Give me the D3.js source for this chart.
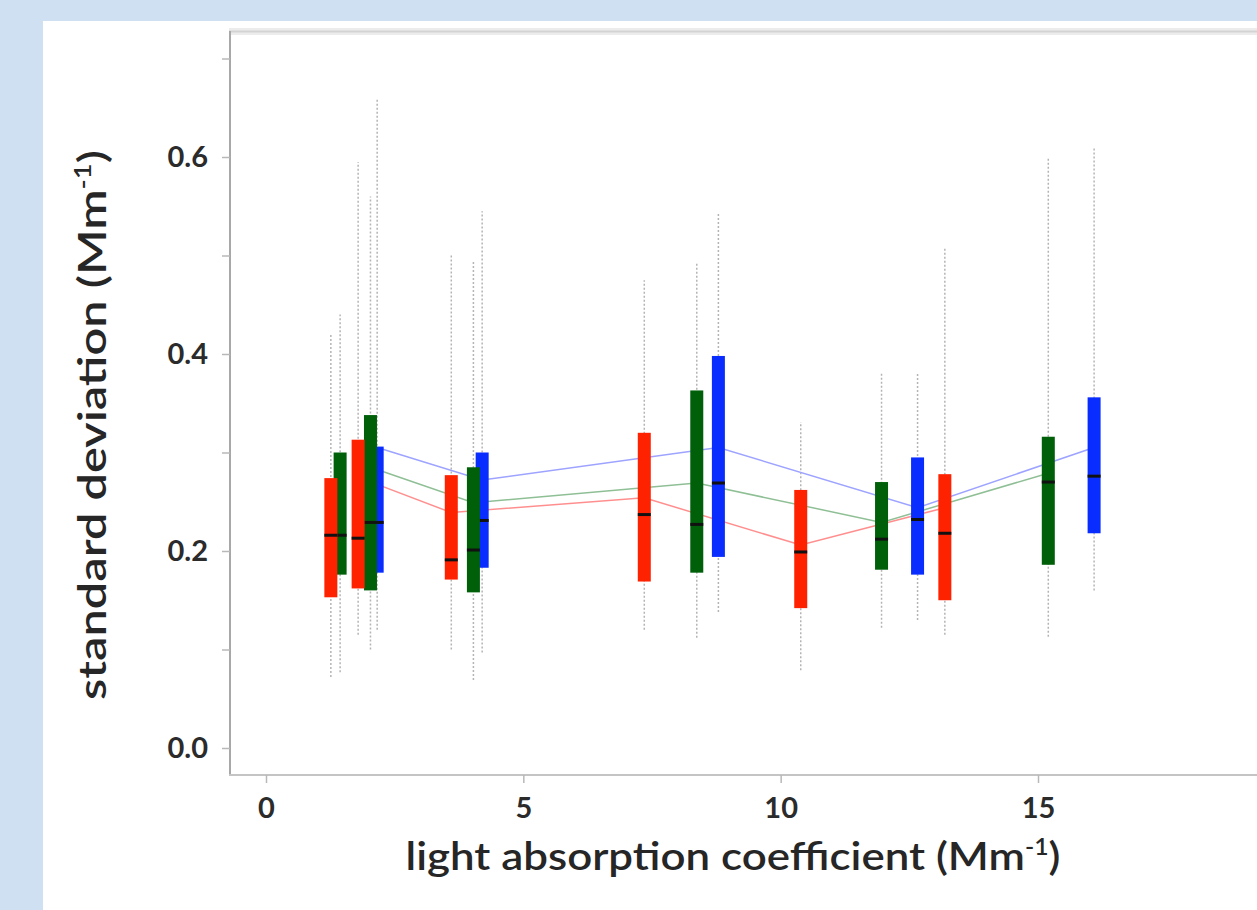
<!DOCTYPE html>
<html>
<head>
<meta charset="utf-8">
<script src="https://cdn.jsdelivr.net/npm/d3@7"></script>
<style>
    body { margin: 0; background: #cfe0f2; }
    #chart { width: 1257px; height: 910px; overflow: hidden; }
</style>
</head>
<body>
<div id="chart"></div>
<script>
// values (Mm-1)
var redX    = [1.26, 1.79, 3.6, 7.35, 10.39, 13.19];
var redLo   = [0.072, 0.115, 0.10, 0.12, 0.079, 0.115];
var redQ1   = [0.153, 0.162, 0.171, 0.169, 0.142, 0.150];
var redMed  = [0.216, 0.213, 0.191, 0.237, 0.199, 0.218];
var redQ3   = [0.274, 0.313, 0.277, 0.320, 0.262, 0.278];
var redHi   = [0.42, 0.595, 0.50, 0.475, 0.331, 0.509];
var redMean = [null, 0.275, 0.239, 0.254, 0.206, 0.244];

var greenX    = [1.44, 2.03, 4.03, 8.37, 11.96, 15.2];
var greenLo   = [0.077, 0.10, 0.069, 0.112, 0.122, 0.113];
var greenQ1   = [0.176, 0.160, 0.158, 0.178, 0.181, 0.186];
var greenMed  = [0.216, 0.229, 0.201, 0.227, 0.212, 0.270];
var greenQ3   = [0.300, 0.338, 0.285, 0.363, 0.270, 0.316];
var greenHi   = [0.44, 0.56, 0.495, 0.492, 0.382, 0.599];
var greenMean = [null, 0.285, 0.249, 0.269, 0.229, 0.279];

var blueX    = [2.16, 4.2, 8.79, 12.66, 16.09];
var blueLo   = [0.12, 0.097, 0.138, 0.13, 0.16];
var blueQ1   = [0.178, 0.183, 0.194, 0.176, 0.218];
var blueMed  = [0.229, 0.231, 0.269, 0.232, 0.276];
var blueQ3   = [0.306, 0.300, 0.398, 0.295, 0.356];
var blueHi   = [0.658, 0.545, 0.544, 0.381, 0.609];
var blueMean = [0.305, 0.272, 0.305, 0.244, 0.305];

var xTicks = [0, 5, 10, 15];
var yTicks = [0, 0.1, 0.2, 0.3, 0.4, 0.5, 0.6, 0.7];
var yLabelled = [0, 0.2, 0.4, 0.6];

function Chart() {
    var self = this;
    this.width = 1257;
    this.height = 910;
    this.font = "Lato, 'Open Sans', sans-serif";
    this.svg = d3.select("#chart").append("svg").attr("width", this.width).attr("height", this.height);

    this.x = d3.scaleLinear().domain([0, 15]).range([266, 1038]);
    this.y = d3.scaleLinear().domain([0, 0.6]).range([748, 157]);

    this.series = [
        { x: redX, lo: redLo, q1: redQ1, med: redMed, q3: redQ3, hi: redHi, mean: redMean, fill: "#ff2200", line: "#ff8f8f" },
        { x: greenX, lo: greenLo, q1: greenQ1, med: greenMed, q3: greenQ3, hi: greenHi, mean: greenMean, fill: "#00600a", line: "#8fbf95" },
        { x: blueX, lo: blueLo, q1: blueQ1, med: blueMed, q3: blueQ3, hi: blueHi, mean: blueMean, fill: "#0a2dff", line: "#9da3ff" }
    ];

    this.frame = function () {
        self.svg.append("rect")
            .attr("x", 43).attr("y", 21)
            .attr("width", self.width).attr("height", self.height)
            .attr("fill", "#fff");

        // top edge with its soft shadow
        self.svg.append("rect")
            .attr("x", 229).attr("y", 28)
            .attr("width", self.width).attr("height", 7)
            .attr("fill", "#ececec");
        self.svg.append("line")
            .attr("x1", 229).attr("x2", self.width)
            .attr("y1", 31.5).attr("y2", 31.5)
            .attr("stroke", "#d3d3d3").attr("stroke-width", 2);
        self.svg.append("line")
            .attr("x1", 230).attr("x2", 230)
            .attr("y1", 31).attr("y2", 776)
            .attr("stroke", "#a8a8a8").attr("stroke-width", 2);
        self.svg.append("line")
            .attr("x1", 229).attr("x2", self.width)
            .attr("y1", 775).attr("y2", 775)
            .attr("stroke", "#c4c4c4").attr("stroke-width", 2);
    };

    this.axes = function () {
        var yAxis = d3.axisLeft(self.y)
            .tickValues(yTicks)
            .tickSize(8)
            .tickPadding(14)
            .tickFormat(function (d) {
                return yLabelled.some(function (v) { return Math.abs(v - d) < 1e-9; }) ? d3.format(".1f")(d) : "";
            });
        var gy = self.svg.append("g").attr("transform", "translate(230,0)").call(yAxis);

        var xAxis = d3.axisBottom(self.x)
            .tickValues(xTicks)
            .tickSize(8)
            .tickPadding(20)
            .tickFormat(d3.format("d"));
        var gx = self.svg.append("g").attr("transform", "translate(0,775)").call(xAxis);

        [gx, gy].forEach(function (g) {
            g.select(".domain").remove();
            g.selectAll(".tick line").attr("stroke", "#b8b8b8").attr("stroke-width", 1.5);
            g.selectAll(".tick text")
                .attr("font-family", self.font)
                .attr("font-weight", "bold")
                .attr("font-size", "29px")
                .attr("fill", "#2b2b2b");
        });
        gx.selectAll(".tick text").attr("dy", "0.5em");

        var xl = self.svg.append("text")
            .attr("x", 733).attr("y", 870)
            .attr("text-anchor", "middle")
            .attr("font-family", self.font)
            .attr("font-weight", 600)
            .attr("font-size", "39px")
            .attr("fill", "#262626")
            .attr("textLength", 655)
            .attr("lengthAdjust", "spacingAndGlyphs");
        xl.append("tspan").text("light absorption coefficient (Mm");
        xl.append("tspan").attr("font-size", "22px").attr("dy", -15).text("-1");
        xl.append("tspan").attr("dy", 15).text(")");

        var yl = self.svg.append("text")
            .attr("transform", "translate(106,425) rotate(-90)")
            .attr("text-anchor", "middle")
            .attr("font-family", self.font)
            .attr("font-weight", 600)
            .attr("font-size", "39px")
            .attr("fill", "#262626")
            .attr("textLength", 550)
            .attr("lengthAdjust", "spacingAndGlyphs");
        yl.append("tspan").text("standard deviation (Mm");
        yl.append("tspan").attr("font-size", "22px").attr("dy", -15).text("-1");
        yl.append("tspan").attr("dy", 15).text(")");
    };

    this.plot = function () {
        var boxes = [];
        self.series.forEach(function (s) {
            s.x.forEach(function (xv, i) {
                boxes.push({ x: xv, lo: s.lo[i], q1: s.q1[i], med: s.med[i], q3: s.q3[i], hi: s.hi[i], fill: s.fill });
            });
        });
        boxes.sort(function (a, b) { return b.x - a.x; });

        // whiskers
        self.svg.append("g").selectAll("line").data(boxes).enter().append("line")
            .attr("x1", function (d) { return self.x(d.x); })
            .attr("x2", function (d) { return self.x(d.x); })
            .attr("y1", function (d) { return self.y(d.lo); })
            .attr("y2", function (d) { return self.y(d.hi); })
            .attr("stroke", "#b4b4b4")
            .attr("stroke-width", 1.5)
            .attr("stroke-dasharray", "2,2");

        // thin lines through the means
        var line = d3.line()
            .defined(function (d) { return d[1] != null; })
            .x(function (d) { return self.x(d[0]); })
            .y(function (d) { return self.y(d[1]); });
        self.series.forEach(function (s) {
            self.svg.append("path")
                .datum(d3.zip(s.x, s.mean))
                .attr("d", line)
                .attr("fill", "none")
                .attr("stroke", s.line)
                .attr("stroke-width", 1.5);
        });

        var bw = 13;
        var g = self.svg.append("g").selectAll("g").data(boxes).enter().append("g");
        g.append("rect")
            .attr("x", function (d) { return self.x(d.x) - bw / 2; })
            .attr("y", function (d) { return self.y(d.q3); })
            .attr("width", bw)
            .attr("height", function (d) { return self.y(d.q1) - self.y(d.q3); })
            .attr("fill", function (d) { return d.fill; });
        g.append("line")
            .attr("x1", function (d) { return self.x(d.x) - bw / 2; })
            .attr("x2", function (d) { return self.x(d.x) + bw / 2; })
            .attr("y1", function (d) { return self.y(d.med); })
            .attr("y2", function (d) { return self.y(d.med); })
            .attr("stroke", "#111")
            .attr("stroke-width", 3);
    };

    this.frame();
    this.axes();
    this.plot();
}

document.addEventListener("DOMContentLoaded", function () {
    new Chart();
});
</script>
</body>
</html>
